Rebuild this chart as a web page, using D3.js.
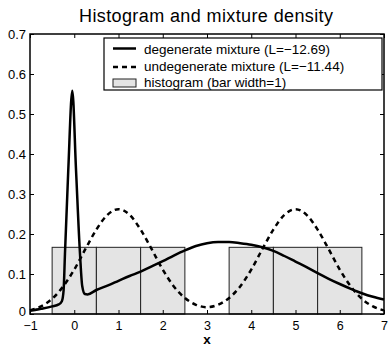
<!DOCTYPE html>
<html>
<head>
<meta charset="utf-8">
<script src="https://cdn.jsdelivr.net/npm/d3@7"></script>
<style>
  body { margin: 0; background: #fff; }
  svg text { font-family: "Liberation Sans", Arial, Helvetica, sans-serif; fill: #000; }
</style>
</head>
<body>
<div id="Canvas"></div>
<script>
// data
const xTicks = [-1, 0, 1, 2, 3, 4, 5, 6, 7]
const yTicks = [0, 0.1, 0.2, 0.3, 0.4, 0.5, 0.6, 0.7]
const binCenters = [0, 1, 2, 4, 5, 6]
const binHeights = [0.1667, 0.1667, 0.1667, 0.1667, 0.1667, 0.1667]

// degenerate mixture (solid)
const degX = [-1, -0.75, -0.5, -0.35, -0.28, -0.24, -0.21, -0.135, -0.044, 0.04, 0.13, 0.18, 0.24, 0.3,
  0.5, 0.75, 1, 1.25, 1.5, 1.75, 2, 2.25, 2.5, 2.75, 3, 3.25, 3.5, 3.75, 4, 4.25, 4.5, 4.75,
  5, 5.25, 5.5, 5.75, 6, 6.25, 6.5, 6.75, 7]
const degY = [0.008, 0.013, 0.019, 0.024, 0.032, 0.06, 0.15, 0.36, 0.558, 0.36, 0.15, 0.07, 0.05, 0.049,
  0.060, 0.071, 0.083, 0.095, 0.106, 0.119, 0.132, 0.146, 0.159, 0.170, 0.177, 0.180, 0.180, 0.177,
  0.173, 0.167, 0.158, 0.145, 0.131, 0.117, 0.102, 0.088, 0.075, 0.063, 0.052, 0.043, 0.036]

// undegenerate mixture (dashed)
const undegX = [-1, -0.75, -0.5, -0.25, 0, 0.25, 0.5, 0.75, 1, 1.25, 1.5, 1.75, 2, 2.25, 2.5, 2.75,
  3, 3.25, 3.5, 3.75, 4, 4.25, 4.5, 4.75, 5, 5.25, 5.5, 5.75, 6, 6.25, 6.5, 6.75, 7]
const undegY = [0.009, 0.019, 0.038, 0.069, 0.111, 0.162, 0.211, 0.248, 0.262, 0.248, 0.211, 0.162,
  0.111, 0.069, 0.040, 0.023, 0.017, 0.023, 0.040, 0.069, 0.111, 0.162, 0.211, 0.248, 0.262, 0.248,
  0.211, 0.162, 0.111, 0.069, 0.038, 0.019, 0.009]

const legendLabels = ["degenerate mixture (L=\u221212.69)", "undegenerate mixture (L=\u221211.44)", "histogram (bar width=1)"]

let svg = d3.select("#Canvas")
    .append("svg")
    .attr("width", 388)
    .attr("height", 347)

const mLeft = 30, mRight = 384, mTop = 34, mBottom = 314

let xScale = d3.scaleLinear().domain([-1, 7]).range([mLeft, mRight])
let yScale = d3.scaleLinear().domain([0, 0.7]).range([mBottom, mTop])

// title
svg.append("text")
    .attr("x", 206)
    .attr("y", 22)
    .attr("text-anchor", "middle")
    .attr("font-size", 18)
    .attr("textLength", 254)
    .attr("lengthAdjust", "spacing")
    .text("Histogram and mixture density")

// histogram bars
svg.selectAll("rect.bar")
    .data(binCenters)
    .enter()
    .append("rect")
    .attr("class", "bar")
    .attr("x", (d) => xScale(d - 0.5))
    .attr("y", (d, i) => yScale(binHeights[i]))
    .attr("width", (d) => xScale(d + 0.5) - xScale(d - 0.5))
    .attr("height", (d, i) => yScale(0) - yScale(binHeights[i]))
    .attr("fill", "#e4e4e4")
    .attr("stroke", "#222")
    .attr("stroke-width", 1)

let line = d3.line()
    .x((d) => xScale(d[0]))
    .y((d) => yScale(d[1]))
    .curve(d3.curveMonotoneX)

svg.append("path")
    .datum(undegX.map((x, i) => [x, undegY[i]]))
    .attr("d", line)
    .attr("fill", "none")
    .attr("stroke", "#000")
    .attr("stroke-width", 2.5)
    .attr("stroke-dasharray", "5,4")

svg.append("path")
    .datum(degX.map((x, i) => [x, degY[i]]))
    .attr("d", line)
    .attr("fill", "none")
    .attr("stroke", "#000")
    .attr("stroke-width", 2.5)

// axes, ticks pointing inward
let xAxis = d3.axisBottom(xScale).tickValues(xTicks).tickSize(-4).tickPadding(7)
    .tickFormat((d) => d < 0 ? "\u2212" + Math.abs(d) : d)
let yAxis = d3.axisLeft(yScale).tickValues(yTicks).tickSize(-4).tickPadding(4)
    .tickFormat((d) => d === 0 ? "0" : d3.format(".1f")(d))
let xTop = d3.axisTop(xScale).tickValues(xTicks).tickSize(-4).tickFormat("")
let yRight = d3.axisRight(yScale).tickValues(yTicks).tickSize(-4).tickFormat("")

let gx = svg.append("g").attr("transform", `translate(0,${mBottom})`).call(xAxis)
let gy = svg.append("g").attr("transform", `translate(${mLeft},0)`).call(yAxis)
svg.append("g").attr("transform", `translate(0,${mTop})`).call(xTop)
svg.append("g").attr("transform", `translate(${mRight},0)`).call(yRight)
svg.selectAll(".domain").remove()
svg.selectAll(".tick line").attr("stroke", "#000")
gx.selectAll(".tick text").attr("font-size", 12.5).attr("font-family", null)
gy.selectAll(".tick text").attr("font-size", 13).attr("font-family", null)
// lift the "0" label a touch so it clears the "-1" below it
gy.selectAll(".tick text").filter((d) => d === 0).attr("y", -2.5)

// frame
svg.append("rect")
    .attr("x", mLeft).attr("y", mTop)
    .attr("width", mRight - mLeft).attr("height", mBottom - mTop)
    .attr("fill", "none").attr("stroke", "#000").attr("stroke-width", 1.5)

// x label
svg.append("text")
    .attr("x", 207)
    .attr("y", 344.2)
    .attr("text-anchor", "middle")
    .attr("font-size", 13.5)
    .attr("font-weight", "bold")
    .text("x")

// legend
let legend = svg.append("g")
legend.append("rect")
    .attr("x", 104).attr("y", 38)
    .attr("width", 278).attr("height", 52)
    .attr("fill", "#fff").attr("stroke", "#000").attr("stroke-width", 1.2)

const rowY = [48.5, 65.5, 82]
legend.append("line")
    .attr("x1", 113).attr("x2", 136).attr("y1", rowY[0]).attr("y2", rowY[0])
    .attr("stroke", "#000").attr("stroke-width", 2.5)
legend.append("line")
    .attr("x1", 113).attr("x2", 136).attr("y1", rowY[1] + 1.5).attr("y2", rowY[1] + 1.5)
    .attr("stroke", "#000").attr("stroke-width", 2.5).attr("stroke-dasharray", "5,4")
legend.append("rect")
    .attr("x", 113).attr("y", rowY[2] - 3)
    .attr("width", 23).attr("height", 8)
    .attr("fill", "#e4e4e4").attr("stroke", "#222").attr("stroke-width", 1)

legend.selectAll("text.lab")
    .data(legendLabels)
    .enter()
    .append("text")
    .attr("class", "lab")
    .attr("x", 144)
    .attr("y", (d, i) => rowY[i] + 5)
    .attr("font-size", 13.5)
    .text((d) => d)
</script>
</body>
</html>
